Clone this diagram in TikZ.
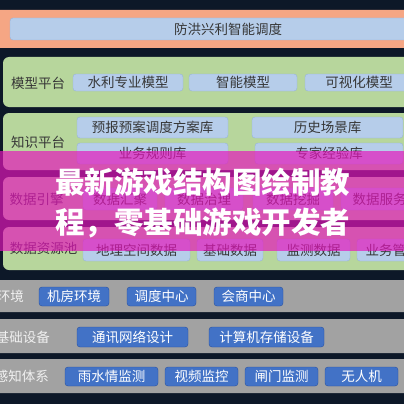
\documentclass[tikz,border=0pt]{standalone}
\usepackage{fontspec}
\setmainfont{Noto Sans CJK SC}
\usepackage{xcolor}
\definecolor{bgnavy}{RGB}{13,24,40}
\definecolor{salmon}{RGB}{245,166,132}
\definecolor{bandgreen}{RGB}{183,214,156}
\definecolor{paleblue}{RGB}{182,205,234}
\definecolor{paleedge}{RGB}{150,180,220}
\definecolor{bandgray}{RGB}{162,162,162}
\definecolor{deepblue}{RGB}{66,114,198}
\definecolor{deepedge}{RGB}{40,80,160}
\definecolor{inkgray}{RGB}{55,55,55}
\definecolor{veil}{RGB}{230,20,188}

\tikzset{
  lightbox/.style={draw=paleedge, fill=paleblue, rounded corners=3pt, text=inkgray,
    inner sep=0pt, font=\fontsize{13.5}{14}\selectfont},
  darkbox/.style={draw=deepedge, fill=deepblue, rounded corners=3pt, text=white,
    inner sep=0pt, font=\fontsize{13.5}{14}\selectfont},
  rowlabel/.style={text=inkgray, inner sep=0pt, font=\fontsize{13.5}{14}\selectfont},
  graylabel/.style={text=white!94!black, inner sep=0pt, font=\fontsize{13.5}{14}\selectfont},
  greenband/.style={fill=bandgreen, rounded corners=6pt},
  grayband/.style={fill=bandgray, rounded corners=3pt},
}

\begin{document}
\begin{tikzpicture}[x=1pt,y=-1pt]
                \useasboundingbox (0,0) rectangle (404,404);
                \clip (0,0) rectangle (404,404);
                \fill[bgnavy] (0,0) rectangle (404,404);

                \fill[salmon, rounded corners=4pt] (-6,10) rectangle (410,48);
                \node[lightbox, minimum width=436pt, minimum height=22pt] (TOP) at (228,29) {防洪兴利智能调度};

                \fill[greenband] (3,57) rectangle (420,107);
                \node[rowlabel] (MODEL) at (38,83) {模型平台};
                \node[lightbox, minimum width=110pt, minimum height=17pt] (M1) at (128,82.5) {水利专业模型};
                \node[lightbox, minimum width=108pt, minimum height=17pt] (M2) at (243,82.5) {智能模型};
                \node[lightbox, minimum width=108pt, minimum height=17pt] (M3) at (359,82.5) {可视化模型};

                \fill[greenband] (3,113) rectangle (420,170);
                \node[rowlabel] (KNOW) at (38,142) {知识平台};
                \node[lightbox, minimum width=151pt, minimum height=21pt] (K1) at (152.5,127.5) {预报预案调度方案库};
                \node[lightbox, minimum width=151pt, minimum height=21pt] (K2) at (327.5,127.5) {历史场景库};
                \node[lightbox, minimum width=151pt, minimum height=21pt] (K3) at (152.5,153.5) {业务规则库};
                \node[lightbox, minimum width=148pt, minimum height=21pt] (K4) at (329,153.5) {专家经验库};

                \fill[greenband] (3,177) rectangle (420,220);
                \node[rowlabel] (ENGINE) at (36.5,199) {数据引擎};
                \node[lightbox, minimum width=74pt, minimum height=22pt] (E1) at (120,199) {数据汇聚};
                \node[lightbox, minimum width=78pt, minimum height=22pt] (E2) at (204,199) {数据治理};
                \node[lightbox, minimum width=80pt, minimum height=22pt] (E3) at (293,199) {数据挖掘};
                \node[lightbox, minimum width=77pt, minimum height=22pt] (E4) at (379.5,199) {数据服务};

                \fill[greenband] (3,227) rectangle (420,270);
                \node[rowlabel] (POOL) at (43.5,248) {数据资源池};
                \node[lightbox, minimum width=107pt, minimum height=22pt] (R1) at (136.5,250) {地理空间数据};
                \node[lightbox, minimum width=66pt, minimum height=22pt] (R2) at (230,250) {基础数据};
                \node[lightbox, minimum width=73pt, minimum height=22pt] (R3) at (313.5,250) {监测数据};
                \node[lightbox, minimum width=98pt, minimum height=22pt] (R4) at (406,250) {业务管理数据};

                \fill[grayband] (-6,280) rectangle (410,312);
                \node[graylabel, anchor=east] (ENV) at (24,296) {环境};
                \node[darkbox, minimum width=70pt, minimum height=19pt] (B1) at (74,296.5) {机房环境};
                \node[darkbox, minimum width=69pt, minimum height=19pt] (B2) at (161.5,296.5) {调度中心};
                \node[darkbox, minimum width=69pt, minimum height=19pt] (B3) at (248.5,296.5) {会商中心};

                \fill[grayband] (-6,319) rectangle (410,353);
                \node[graylabel, anchor=east] (BASE) at (50,337) {基础设备};
                \node[darkbox, minimum width=111pt, minimum height=20pt] (C1) at (132.5,337) {通讯网络设计};
                \node[darkbox, minimum width=115pt, minimum height=20pt] (C2) at (266.5,337) {计算机存储设备};

                \fill[grayband] (-6,359) rectangle (410,393);
                \node[graylabel, anchor=east] (SENSE) at (49,376) {感知体系};
                \node[darkbox, minimum width=93pt, minimum height=19pt] (S1) at (111.5,376.5) {雨水情监测};
                \node[darkbox, minimum width=73pt, minimum height=19pt] (S2) at (201.5,376.5) {视频监控};
                \node[darkbox, minimum width=73pt, minimum height=19pt] (S3) at (281.5,376.5) {闸门监测};
                \node[darkbox, minimum width=73pt, minimum height=19pt] (S4) at (361.5,376.5) {无人机};

                \fill[veil, opacity=0.68] (0,151) rectangle (404,251);
                \node[text=white, font=\bfseries\fontsize{29.5}{30}\selectfont] (T1) at (202.5,182) {最新游戏结构图绘制教};
                \node[text=white, font=\bfseries\fontsize{29.5}{30}\selectfont] (T2) at (202.5,223) {程，零基础游戏开发者};
            \end{tikzpicture}
\end{document}
